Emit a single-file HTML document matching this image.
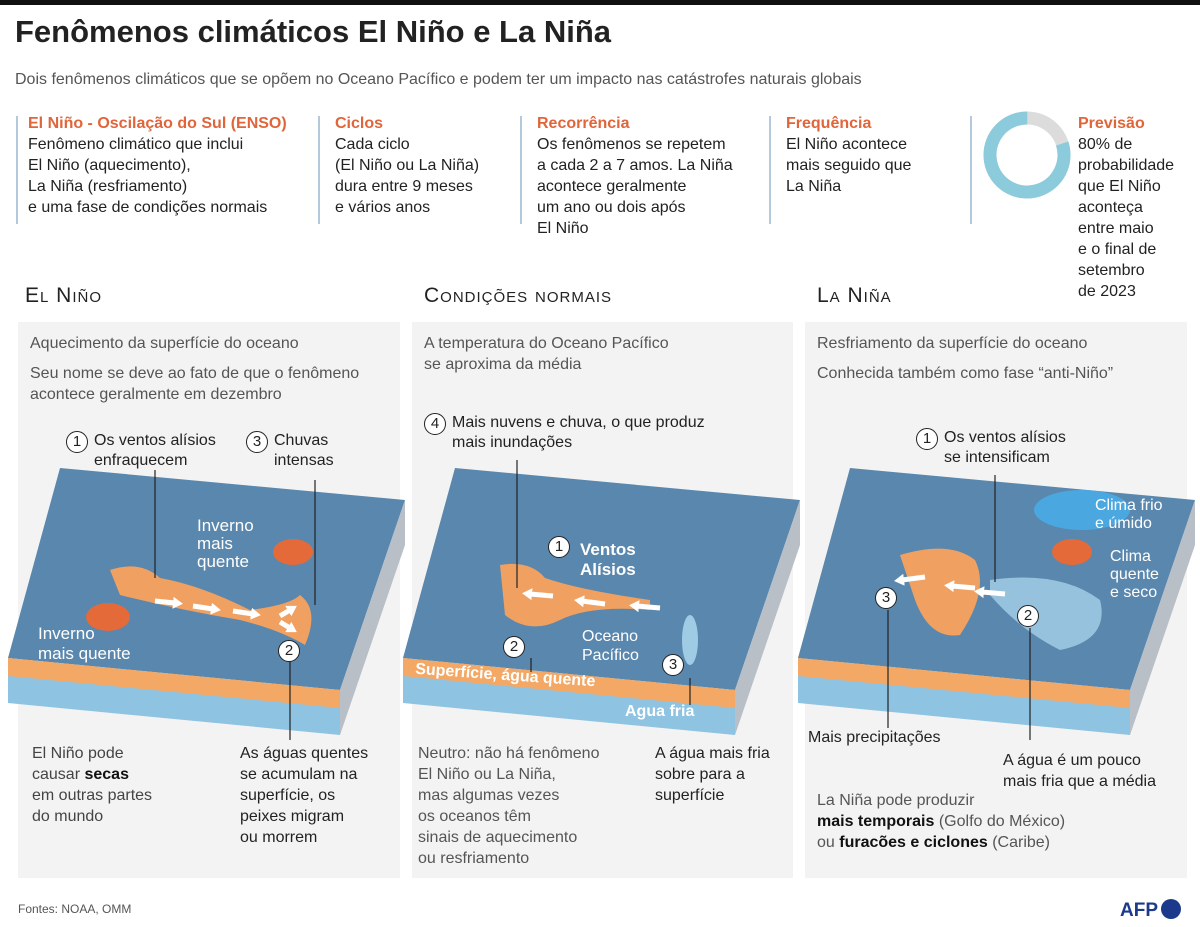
<!DOCTYPE html>
<html><head><meta charset="utf-8"><style>
body{margin:0;width:1200px;height:927px;background:#fff;position:relative;font-family:"Liberation Sans",sans-serif;color:#222;overflow:hidden}
.a{position:absolute;white-space:nowrap}
.t{font-size:16px;line-height:21px}
.h{color:#e0653a;font-weight:bold;font-size:16px}
.p{position:absolute;background:#f3f3f3;top:322px;height:556px}
.sec{font-size:21px;letter-spacing:1px;font-variant:small-caps}
.g{color:#555;font-size:16px;line-height:21px}
.vl{position:absolute;width:2px;background:#b5c9dc;top:116px;height:108px}
.c{display:inline-block;width:20px;height:20px;border:1.5px solid #222;border-radius:50%;text-align:center;line-height:20px;font-size:15px;background:#fff;margin-right:6px;vertical-align:top}
</style></head><body>
<div style="position:absolute;left:0;top:0;width:1200px;height:5px;background:#111"></div>
<div class="a" style="left:15px;top:14px;font-size:31px;font-weight:bold;color:#222">Fenômenos climáticos El Niño e La Niña</div>
<div class="a" style="left:15px;top:71px;font-size:16px;color:#555">Dois fenômenos climáticos que se opõem no Oceano Pacífico e podem ter um impacto nas catástrofes naturais globais</div>

<div class="vl" style="left:16px"></div><div class="vl" style="left:318px"></div><div class="vl" style="left:520px"></div><div class="vl" style="left:769px"></div><div class="vl" style="left:970px"></div>
<div class="a t" style="left:28px;top:113px"><span class="h">El Niño - Oscilação do Sul (ENSO)</span><br>Fenômeno climático que inclui<br>El Niño (aquecimento),<br>La Niña (resfriamento)<br>e uma fase de condições normais</div>
<div class="a t" style="left:335px;top:113px"><span class="h">Ciclos</span><br>Cada ciclo<br>(El Niño ou La Niña)<br>dura entre 9 meses<br>e vários anos</div>
<div class="a t" style="left:537px;top:113px"><span class="h">Recorrência</span><br>Os fenômenos se repetem<br>a cada 2 a 7 amos. La Niña<br>acontece geralmente<br>um ano ou dois após<br>El Niño</div>
<div class="a t" style="left:786px;top:113px"><span class="h">Frequência</span><br>El Niño acontece<br>mais seguido que<br>La Niña</div>
<svg class="a" style="left:982px;top:110px" width="90" height="90"><circle cx="45" cy="45" r="37" fill="none" stroke="#dcdcdc" stroke-width="13"/><circle cx="45" cy="45" r="37" fill="none" stroke="#8ccbdb" stroke-width="13" stroke-dasharray="186 46.5" transform="rotate(-18 45 45)"/></svg>
<div class="a t" style="left:1078px;top:113px"><span class="h">Previsão</span><br>80% de<br>probabilidade<br>que El Niño<br>aconteça<br>entre maio<br>e o final de<br>setembro<br>de 2023</div>

<div class="a sec" style="left:25px;top:284px">El Niño</div>
<div class="a sec" style="left:424px;top:284px">Condições normais</div>
<div class="a sec" style="left:817px;top:284px">La Niña</div>

<div class="p" style="left:18px;width:382px"></div>
<div class="p" style="left:412px;width:381px"></div>
<div class="p" style="left:805px;width:382px"></div>

<div class="a g" style="left:30px;top:333px">Aquecimento da superfície do oceano</div>
<div class="a g" style="left:30px;top:363px">Seu nome se deve ao fato de que o fenômeno<br>acontece geralmente em dezembro</div>
<div class="a g" style="left:424px;top:333px">A temperatura do Oceano Pacífico<br>se aproxima da média</div>
<div class="a g" style="left:817px;top:333px">Resfriamento da superfície do oceano</div>
<div class="a g" style="left:817px;top:363px">Conhecida também como fase “anti-Niño”</div>

<svg class="a" style="left:0;top:460px" width="1200" height="290">
<defs><marker id="ar" markerUnits="userSpaceOnUse" markerWidth="10" markerHeight="12" refX="2" refY="6" orient="auto"><path d="M0,0 L10,6 L0,12Z" fill="#fff"/></marker></defs>
<g id="b1">
<polygon points="60,8 405,40 340,230 8,198" fill="#5a87ad"/>
<polygon points="8,198 340,230 340,275 8,243" fill="#8ec3e2"/>
<polygon points="8,198 340,230 340,248 8,216" fill="#f3a866"/>
<polygon points="405,40 340,230 340,275 405,85" fill="#b9bfc6"/>
</g>
<use href="#b1" x="395" y="0"/>
<use href="#b1" x="790" y="0"/>
<path d="M110,110 Q140,100 160,118 Q200,125 250,150 Q290,145 300,135 Q320,150 305,185 Q280,170 240,160 Q180,150 120,135 Z" fill="#f0a060"/>
<ellipse cx="108" cy="157" rx="22" ry="14" fill="#e46a3a"/>
<ellipse cx="293" cy="92" rx="20" ry="13" fill="#e46a3a"/>
<path d="M500,105 Q530,100 545,118 Q580,130 650,140 L650,150 Q590,145 560,160 Q530,175 505,155 Z" fill="#f0a060"/>
<ellipse cx="690" cy="180" rx="8" ry="25" fill="#9fcbe5"/>
<path d="M900,95 Q950,80 975,100 Q990,130 960,175 Q930,180 915,140 Z" fill="#f0a060"/>
<ellipse cx="1082" cy="50" rx="48" ry="20" fill="#4aa7e0"/>
<ellipse cx="1072" cy="92" rx="20" ry="13" fill="#e46a3a"/>
<path d="M990,120 Q1060,110 1100,140 Q1110,180 1060,190 Q1020,170 990,135 Z" fill="#a6d1ea" opacity="0.8"/>
<g stroke="#fff" stroke-width="5" marker-end="url(#ar)" fill="none">
<path d="M155,141 L175,143"/><path d="M193,146 L213,149"/><path d="M233,151 L253,154"/><path d="M280,156 L290,150"/><path d="M280,162 L290,168"/>
<path d="M553,136 L530,134"/><path d="M605,144 L582,141"/><path d="M660,148 L637,146"/>
<path d="M925,117 L902,120"/><path d="M975,128 L952,126"/><path d="M1005,134 L982,132"/>
</g>
<g stroke="#222" stroke-width="1.2">
<line x1="155" y1="10" x2="155" y2="118"/><line x1="315" y1="20" x2="315" y2="145"/><line x1="290" y1="200" x2="290" y2="280"/>
<line x1="517" y1="0" x2="517" y2="128"/><line x1="531" y1="198" x2="531" y2="212"/><line x1="690" y1="218" x2="690" y2="245"/>
<line x1="995" y1="15" x2="995" y2="122"/><line x1="888" y1="150" x2="888" y2="268"/><line x1="1030" y1="168" x2="1030" y2="280"/>
</g>
</svg>
<div class="a" style="left:197px;top:517px;color:#fff;font-size:17px;line-height:18px">Inverno<br>mais<br>quente</div>
<div class="a" style="left:38px;top:624px;color:#fff;font-size:17px;line-height:20px">Inverno<br>mais quente</div>
<div class="a" style="left:580px;top:540px;color:#fff;font-size:17px;font-weight:bold;line-height:20px">Ventos<br>Alísios</div>
<div class="a" style="left:415px;top:667px;color:#fff;font-size:16px;font-weight:bold;transform:rotate(4deg)">Superfície, água quente</div>
<div class="a" style="left:625px;top:703px;color:#fff;font-size:16px;font-weight:bold">Agua fria</div>
<div class="a" style="left:582px;top:627px;color:#fff;font-size:16px;line-height:19px">Oceano<br>Pacífico</div>
<div class="a" style="left:1095px;top:497px;color:#fff;font-size:16px;line-height:18px">Clima frio<br>e úmido</div>
<div class="a" style="left:1110px;top:548px;color:#fff;font-size:16px;line-height:18px">Clima<br>quente<br>e seco</div>

<div class="a t" style="left:66px;top:431px;font-size:16px;line-height:20px"><span class="c">1</span><span style="display:inline-block">Os ventos alísios<br>enfraquecem</span></div>
<div class="a t" style="left:246px;top:431px;font-size:16px;line-height:20px"><span class="c">3</span><span style="display:inline-block">Chuvas<br>intensas</span></div>
<div class="a t" style="left:424px;top:413px;font-size:16px;line-height:20px"><span class="c">4</span><span style="display:inline-block">Mais nuvens e chuva, o que produz<br>mais inundações</span></div>
<div class="a t" style="left:916px;top:428px;font-size:16px;line-height:20px"><span class="c">1</span><span style="display:inline-block">Os ventos alísios<br>se intensificam</span></div>
<div class="a"><span class="c" style="position:absolute;left:278px;top:640px">2</span><span class="c" style="position:absolute;left:503px;top:636px">2</span><span class="c" style="position:absolute;left:662px;top:654px">3</span><span class="c" style="position:absolute;left:548px;top:536px">1</span><span class="c" style="position:absolute;left:875px;top:587px">3</span><span class="c" style="position:absolute;left:1017px;top:605px">2</span></div>

<div class="a t" style="left:32px;top:743px;color:#444">El Niño pode<br>causar <b style="color:#111">secas</b><br>em outras partes<br>do mundo</div>
<div class="a t" style="left:240px;top:743px">As águas quentes<br>se acumulam na<br>superfície, os<br>peixes migram<br>ou morrem</div>
<div class="a t" style="left:418px;top:743px;color:#555">Neutro: não há fenômeno<br>El Niño ou La Niña,<br>mas algumas vezes<br>os oceanos têm<br>sinais de aquecimento<br>ou resfriamento</div>
<div class="a t" style="left:655px;top:743px">A água mais fria<br>sobre para a<br>superfície</div>
<div class="a t" style="left:808px;top:727px">Mais precipitações</div>
<div class="a t" style="left:1003px;top:750px">A água é um pouco<br>mais fria que a média</div>
<div class="a t" style="left:817px;top:790px;color:#555">La Niña pode produzir<br><b style="color:#111">mais temporais</b>  (Golfo do México)<br>ou <b style="color:#111">furacões e ciclones</b> (Caribe)</div>

<div class="a" style="left:18px;top:902px;font-size:12px;color:#555">Fontes: NOAA, OMM</div>
<div class="a" style="left:1120px;top:899px;font-size:19px;font-weight:bold;color:#1b3a8c">AFP<span style="display:inline-block;width:20px;height:20px;border-radius:50%;background:#1b3a8c;vertical-align:-3px;margin-left:3px"></span></div>
</body></html>
